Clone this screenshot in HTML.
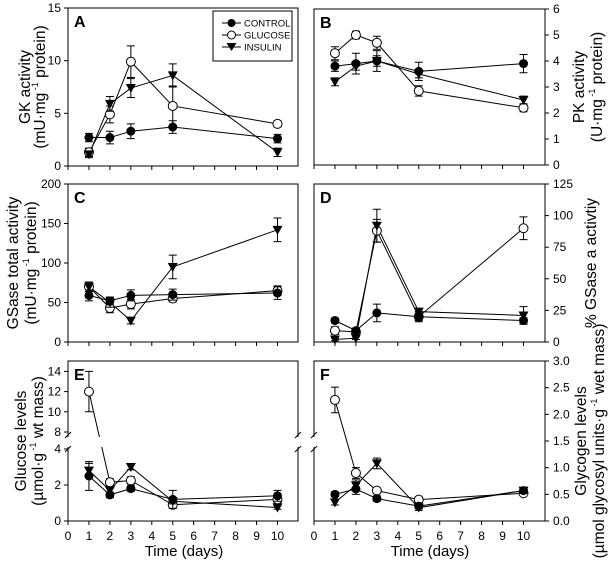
<!DOCTYPE html>
<html><head><meta charset="utf-8"><style>
body{margin:0;background:#fff}
svg{display:block;font-family:"Liberation Sans",sans-serif}
</style></head><body>
<svg id="fig" width="610" height="562" viewBox="0 0 610 562" xmlns="http://www.w3.org/2000/svg"></svg>
<script>
const days=[1,2,3,5,10];
// Panel A: GK activity
const aControl=[2.7,2.7,3.3,3.7,2.6], aControlErr=[0.4,0.6,0.7,0.6,0.4];
const aGlucose=[1.3,4.9,9.9,5.7,4.0], aGlucoseErr=[0.4,0.8,1.5,1.9,0.3];
const aInsulin=[1.1,5.9,7.4,8.6,1.3], aInsulinErr=[0.3,0.7,0.9,1.1,0.4];
// Panel B: PK activity
const bControl=[3.8,3.9,4.0,3.6,3.9], bControlErr=[0.2,0.4,0.4,0.35,0.35];
const bGlucose=[4.3,5.0,4.7,2.85,2.2], bGlucoseErr=[0.25,0.15,0.25,0.2,0.15];
const bInsulin=[3.2,3.8,4.0,3.5,2.5], bInsulinErr=[0.15,0.15,0.2,0.15,0.15];
// Panel C: GSase total
const cControl=[59,52,59,60,62], cControlErr=[7,5,7,7,8];
const cGlucose=[70,43,48,55,65], cGlucoseErr=[6,6,6,4,6];
const cInsulin=[70,50,27,95,142], cInsulinErr=[6,6,4,15,15];
// Panel D: % GSase a
const dControl=[17,9,23,20,17], dControlErr=[2,2,7,3,2];
const dGlucose=[9,8,88,20,90], dGlucoseErr=[3,2,9,4,9];
const dInsulin=[2,3,92,24,21], dInsulinErr=[1,1,13,2,7];
// Panel E: glucose levels
const eControl=[2.5,1.45,1.8,1.2,1.4], eControlErr=[0.8,0.15,0.15,0.5,0.3];
const eGlucose=[12,2.15,2.25,0.9,1.2], eGlucoseErr=[2,0.2,0.2,0.15,0.2];
const eInsulin=[2.8,1.7,3.0,1.1,0.75], eInsulinErr=[0.4,0.15,0.15,0.15,0.1];
// Panel F: glycogen levels
const fControl=[0.5,0.6,0.42,0.28,0.57], fControlErr=[0.04,0.1,0.05,0.05,0.05];
const fGlucose=[2.27,0.9,0.57,0.4,0.52], fGlucoseErr=[0.24,0.1,0.05,0.05,0.04];
const fInsulin=[0.35,0.67,1.08,0.25,0.57], fInsulinErr=[0.05,0.1,0.1,0.05,0.05];
const xTicks=[0,1,2,3,4,5,6,7,8,9,10];
const aTicks=[0,5,10,15], bTicks=[0,1,2,3,4,5,6], cTicks=[0,50,100,150,200], dTicks=[0,25,50,75,100,125];
const eTicksLow=[0,2,4], eTicksHigh=[8,10,12,14], fTicks=["0.0","0.5","1.0","1.5","2.0","2.5","3.0"];

const NS="http://www.w3.org/2000/svg";
const svg=document.getElementById('fig');
function mk(tag,at,parent){const e=document.createElementNS(NS,tag);for(const k in at)e.setAttribute(k,at[k]);(parent||svg).appendChild(e);return e;}
function txt(s,at,parent){const e=mk('text',at,parent);e.textContent=s;return e;}

function panel(o){
  const g=mk('g',{});
  
  
  const X=d=>o.left+d*20.95;
  const Y=o.y;
  mk('rect',{x:o.left,y:o.top,width:o.right-o.left,height:o.bottom-o.top,fill:'none',stroke:'#000','stroke-width':1},g);
  xTicks.forEach(t=>{const tk=mk('line',{x1:X(t),x2:X(t),y1:o.bottom,y2:o.bottom+4,stroke:'#000'},g);
    
    if(o.xlabels){const l=txt(String(t),{x:X(t),y:o.bottom+19,'font-size':12,'text-anchor':'middle'},g);
      }});
  const side=o.side;
  o.ticks.forEach(t=>{const v=parseFloat(t);const yy=Y(v);
    const x0=side==='left'?o.left:o.right, dx=side==='left'?-4:4;
    const tk=mk('line',{x1:x0,x2:x0+dx,y1:yy,y2:yy,stroke:'#000'},g);
    
    const l=txt(String(t),{x:side==='left'?o.left-7:o.right+8,y:yy+4,'font-size':12,'text-anchor':side==='left'?'end':'start'},g);
    });
  const L=txt(o.letter,{x:o.left+6,y:o.top+19,'font-size':16,'font-weight':'bold'},g);
  
  const series=[{v:o.glu,e:o.gluE,k:'glucose'},{v:o.ins,e:o.insE,k:'insulin'},{v:o.con,e:o.conE,k:'control'}];
  series.forEach(s=>{
    const pts=days.map((d,i)=>X(d)+','+Y(s.v[i])).join(' ');
    const pl=mk('polyline',{points:pts,fill:'none',stroke:'#000','stroke-width':1},g);
    
  });
  if(o.after)o.after(g);
  series.forEach(s=>{
    days.forEach((d,i)=>{
      const cx=X(d),cy=Y(s.v[i]),y1=Y(s.v[i]+s.e[i]),y2=Y(s.v[i]-s.e[i]);
      const eb=mk('path',{d:`M${cx},${y1}V${y2}M${cx-4},${y1}H${cx+4}M${cx-4},${y2}H${cx+4}`,stroke:'#000','stroke-width':1,fill:'none'},g);
      
      let m;
      if(s.k==='control')m=mk('circle',{cx:cx,cy:cy,r:4.5,fill:'#000'},g);
      else if(s.k==='glucose')m=mk('circle',{cx:cx,cy:cy,r:4.5,fill:'#fff',stroke:'#000','stroke-width':1},g);
      else m=mk('path',{d:`M${cx-5},${cy-4}L${cx+5},${cy-4}L${cx},${cy+5}Z`,fill:'#000'},g);
      
    });
  });
  const cy=(o.top+o.bottom)/2;
  o.title.forEach((line,i)=>{
    const t=mk('text',{x:0,y:0,'font-size':15.5,'text-anchor':'middle',transform:`translate(${o.tx[i]},${cy}) rotate(-90)`},g);
    
    line.forEach(p=>{const sp=mk('tspan',p.sup?{'font-size':9,dy:-7}:(p.down?{dy:7}:{}),t);sp.textContent=p.t;});
  });
  return {g,X,Y};
}
const linY=(lo,hi,top,bottom)=>v=>bottom-(v-lo)/(hi-lo)*(bottom-top);

panel({letter:'A',left:68,right:298,top:8,bottom:166,side:'left',ticks:aTicks,y:linY(0,15,8,166),tx:[30,45],
  con:aControl,conE:aControlErr,glu:aGlucose,gluE:aGlucoseErr,ins:aInsulin,insE:aInsulinErr,
  title:[[{t:'GK activity'}],[{t:'(mU·mg'},{t:' -1',sup:1},{t:' protein)',down:1}]]});
panel({letter:'B',left:314,right:545,top:9,bottom:165,side:'right',ticks:bTicks,y:linY(0,6,9,165),tx:[584,602],
  con:bControl,conE:bControlErr,glu:bGlucose,gluE:bGlucoseErr,ins:bInsulin,insE:bInsulinErr,
  title:[[{t:'PK activity'}],[{t:'(U·mg'},{t:' -1',sup:1},{t:' protein)',down:1}]]});
panel({letter:'C',left:68,right:298,top:184,bottom:342,side:'left',ticks:cTicks,y:linY(0,200,184,342),tx:[18,36],
  con:cControl,conE:cControlErr,glu:cGlucose,gluE:cGlucoseErr,ins:cInsulin,insE:cInsulinErr,
  title:[[{t:'GSase total activity'}],[{t:'(mU·mg'},{t:' -1',sup:1},{t:' protein)',down:1}]]});
panel({letter:'D',left:314,right:545,top:184,bottom:342,side:'right',ticks:dTicks,y:linY(0,125,184,342),tx:[596],
  con:dControl,conE:dControlErr,glu:dGlucose,gluE:dGlucoseErr,ins:dInsulin,insE:dInsulinErr,
  title:[[{t:'% GSase a activtiy'}]]});
const eY=v=>v<=5?521-v*18:432-(v-8)*10.1;
panel({letter:'E',left:68,right:298,top:361,bottom:521,side:'left',ticks:eTicksLow.concat(eTicksHigh),y:eY,xlabels:true,tx:[26,43],
  con:eControl,conE:eControlErr,glu:eGlucose,gluE:eGlucoseErr,ins:eInsulin,insE:eInsulinErr,
  title:[[{t:'Glucose levels'}],[{t:'(µmol·g'},{t:' -1',sup:1},{t:' wt mass)',down:1}]],
  after:g=>{
    const w=mk('rect',{x:62,y:437,width:242,height:10,fill:'#fff'},g);
    
    [68,298].forEach(x=>{[435,449].forEach(y=>{const b=mk('line',{x1:x-3,y1:y+3,x2:x+3,y2:y-3,stroke:'#000'},g);
      });});
  }});
panel({letter:'F',left:314,right:545,top:361,bottom:521,side:'right',ticks:fTicks,y:linY(0,3,361,521),xlabels:true,tx:[586,604],
  con:fControl,conE:fControlErr,glu:fGlucose,gluE:fGlucoseErr,ins:fInsulin,insE:fInsulinErr,
  title:[[{t:'Glycogen levels'}],[{t:'(µmol glycosyl units·g'},{t:' -1',sup:1},{t:' wet mass)',down:1}]],
  after:g=>{
    const w=mk('rect',{x:310,y:437,width:8,height:10,fill:'#fff'},g);
    
    [435,449].forEach(y=>{const b=mk('line',{x1:311,y1:y+3,x2:317,y2:y-3,stroke:'#000'},g);
      });
  }});
[[184,'x-axis-title-left'],[430,'x-axis-title-right']].forEach(([x,n])=>{
  const t=txt('Time (days)',{x:x,y:556,'font-size':15,'text-anchor':'middle'});
  });
const lg=mk('g',{});


mk('rect',{x:213,y:11,width:79,height:50,fill:'#fff',stroke:'#000'},lg);
[['CONTROL','control',23],['GLUCOSE','glucose',35],['INSULIN','insulin',47]].forEach(([lab,k,y])=>{
  const e=mk('g',{},lg);
  
  
  mk('line',{x1:222,x2:241,y1:y,y2:y,stroke:'#000'},e);
  if(k==='control')mk('circle',{cx:231.5,cy:y,r:4,fill:'#000'},e);
  else if(k==='glucose')mk('circle',{cx:231.5,cy:y,r:4,fill:'#fff',stroke:'#000'},e);
  else mk('path',{d:`M226.5,${y-4}L236.5,${y-4}L231.5,${y+4}Z`,fill:'#000'},e);
  txt(lab,{x:244,y:y+3.5,'font-size':9.5},e);
});
</script>
</body></html>
